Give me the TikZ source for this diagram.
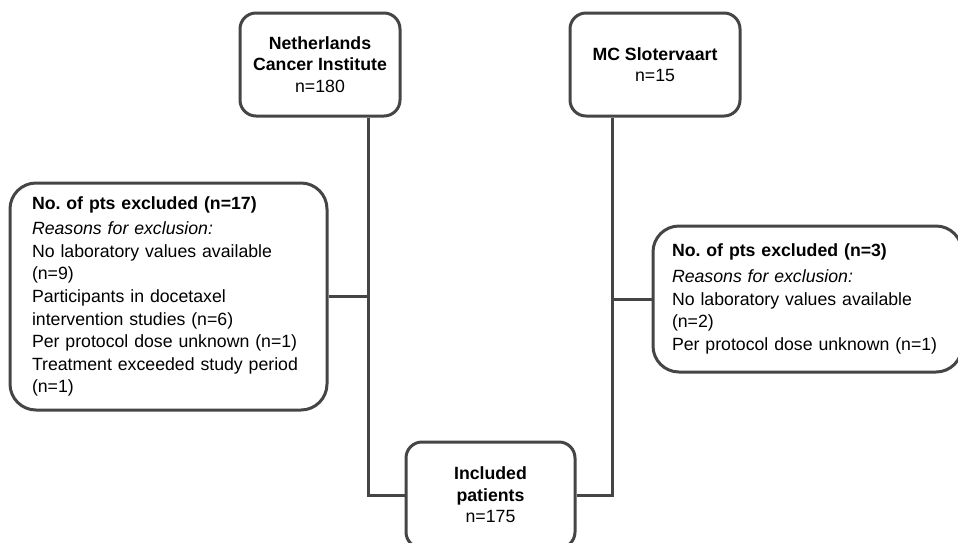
\documentclass[tikz,border=0pt]{standalone}
\usepackage{fontspec}
\setmainfont{Liberation Sans}
\frenchspacing
\definecolor{linegray}{HTML}{454545}

\begin{document}
\begin{tikzpicture}[x=1pt, y=-1pt,
  site/.style={draw=linegray, line width=3pt, rounded corners=16pt,
               align=center, inner sep=0pt,
               font=\fontsize{17.7pt}{21.5pt}\selectfont},
  excl/.style={draw=linegray, line width=3pt, rounded corners=26pt,
               align=left, inner ysep=0pt,
               font=\fontsize{17.7pt}{22.6pt}\selectfont},
  link/.style={draw=linegray, line width=3pt}]
\useasboundingbox (0,0) rectangle (958,542);

\node[site, minimum width=160pt, minimum height=103pt] (nki) at (320,64.5)
  {\textbf{Netherlands}\\\textbf{Cancer Institute}\\n=180};
\node[site, minimum width=170pt, minimum height=103pt] (mc) at (655,64.5)
  {\textbf{MC Slotervaart}\\n=15};
\node[site, minimum width=169pt, minimum height=106pt] (inc) at (490.5,495)
  {\textbf{Included}\\\textbf{patients}\\n=175};

\node[excl, text width=273pt, inner xsep=22pt, minimum height=227pt] (exl) at (168.5,296.5)
  {\textbf{No. of pts excluded (n=17)}\\[3pt]
   \textit{Reasons for exclusion:}\\
   No laboratory values available\\
   (n=9)\\
   Participants in docetaxel\\
   intervention studies (n=6)\\
   Per protocol dose unknown (n=1)\\
   Treatment exceeded study period\\
   (n=1)};
\node[excl, text width=271pt, inner xsep=19pt, minimum height=146pt] (exr) at (807.5,299)
  {\textbf{No. of pts excluded (n=3)}\\[3pt]
   \textit{Reasons for exclusion:}\\
   No laboratory values available\\
   (n=2)\\
   Per protocol dose unknown (n=1)};

\coordinate (ldrop) at (368,0);
\coordinate (rdrop) at (612,0);
\draw[link] (ldrop |- nki.south) |- (inc.west);
\draw[link] (rdrop |- mc.south) |- (inc.east);
\draw[link] (exl.east) -- (exl.east -| ldrop);
\draw[link] (exr.west) -- (exr.west -| rdrop);
\end{tikzpicture}
\end{document}
